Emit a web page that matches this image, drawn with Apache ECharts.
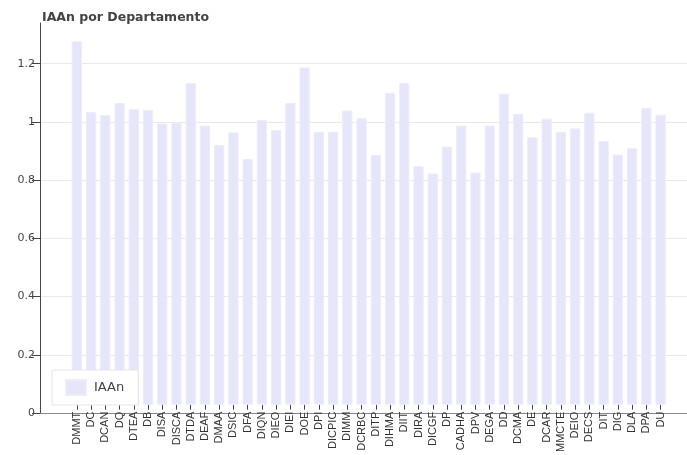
<!DOCTYPE html>
<html>
<head>
<meta charset="utf-8">
<script src="https://cdn.jsdelivr.net/npm/echarts@6/dist/echarts.min.js"></script>
<style>
  html, body { margin: 0; padding: 0; background: #fff; }
  #chart { width: 687px; height: 455px; }
</style>
</head>
<body>
<div id="chart"></div>
<script>
// IAAn per department
const departments = ['DMMT', 'DC', 'DCAN', 'DQ', 'DTEA', 'DB', 'DISA', 'DISCA', 'DTDA', 'DEAF',
    'DMAA', 'DSIC', 'DFA', 'DIQN', 'DIEO', 'DIEI', 'DOE', 'DPI', 'DICPIC', 'DIMM',
    'DCRBC', 'DITP', 'DIHMA', 'DIIT', 'DIRA', 'DICGF', 'DP', 'CADHA', 'DPV', 'DEGA',
    'DD', 'DCMA', 'DE', 'DCAR', 'MMCTE', 'DEIO', 'DECS', 'DIT', 'DIG', 'DLA', 'DPA', 'DU'];
const iaanValues = [1.276, 1.027, 1.017, 1.059, 1.037, 1.035, 0.987, 0.989, 1.129, 0.980,
    0.912, 0.956, 0.862, 1.000, 0.964, 1.059, 1.184, 0.957, 0.958, 1.033,
    1.006, 0.877, 1.095, 1.129, 0.837, 0.812, 0.906, 0.980, 0.815, 0.980,
    1.092, 1.021, 0.939, 1.004, 0.957, 0.970, 1.025, 0.925, 0.878, 0.900, 1.042, 1.018];
const yTicks = [0, 0.2, 0.4, 0.6, 0.8, 1, 1.2];
const yMax = 1.34;

const chart = echarts.init(document.getElementById('chart'), null, { renderer: 'canvas' });

const option = {
    animation: false,
    title: {
        text: 'IAAn por Departamento',
        left: 37,
        top: 6,
        textStyle: { fontFamily: 'DejaVu Sans', fontWeight: 'bold', fontSize: 12.5, color: '#444' }
    },
    legend: {
        data: ['IAAn'],
        left: 52,
        top: 370,
        orient: 'vertical',
        icon: 'rect',
        itemWidth: 20,
        itemHeight: 15,
        padding: [9, 14, 9, 13],
        backgroundColor: '#fff',
        borderColor: '#e5e5e5',
        borderWidth: 1,
        textStyle: { fontFamily: 'DejaVu Sans', fontSize: 13, color: '#444', padding: [0, 0, 0, 3] }
    },
    grid: [
        // axis frame + gridlines
        { left: 40, right: 0, top: 23, bottom: 42 },
        // bars (padded inside the frame)
        { left: 69.7, width: 598, top: 23, bottom: 42 }
    ],
    xAxis: [
        {
            gridIndex: 0, type: 'value', min: 0, max: 1,
            axisLine: { show: true, lineStyle: { color: '#888', width: 1 } },
            axisTick: { show: false }, axisLabel: { show: false }, splitLine: { show: false }
        },
        {
            gridIndex: 1, type: 'category', data: departments,
            boundaryGap: true,
            axisLine: { show: false },
            axisTick: { show: true, alignWithLabel: true, length: 5, lineStyle: { color: '#444' } },
            axisLabel: {
                rotate: 90, interval: 0, margin: 7,
                fontFamily: 'Liberation Sans', fontSize: 11, color: '#333'
            },
            splitLine: { show: false }
        }
    ],
    yAxis: [
        {
            gridIndex: 0, type: 'value', min: 0, max: yMax, interval: 0.2,
            axisLine: { show: true, lineStyle: { color: '#444', width: 1 } },
            axisTick: { show: true, length: 8, customValues: yTicks, lineStyle: { color: '#444' } },
            axisLabel: {
                customValues: yTicks, margin: 5,
                fontFamily: 'DejaVu Sans', fontSize: 11, color: '#444'
            },
            splitLine: { show: true, showMinLine: false, showMaxLine: true, lineStyle: { color: '#e9e9e9', width: 1 } }
        },
        {
            gridIndex: 1, type: 'value', min: 0, max: yMax, show: false
        }
    ],
    series: [
        {
            name: 'IAAn',
            type: 'bar',
            xAxisIndex: 1,
            yAxisIndex: 1,
            data: iaanValues,
            barCategoryGap: '28%',
            itemStyle: { color: '#e6e6fa', borderColor: '#ececfb', borderWidth: 1 }
        }
    ]
};

chart.setOption(option);
</script>
</body>
</html>
